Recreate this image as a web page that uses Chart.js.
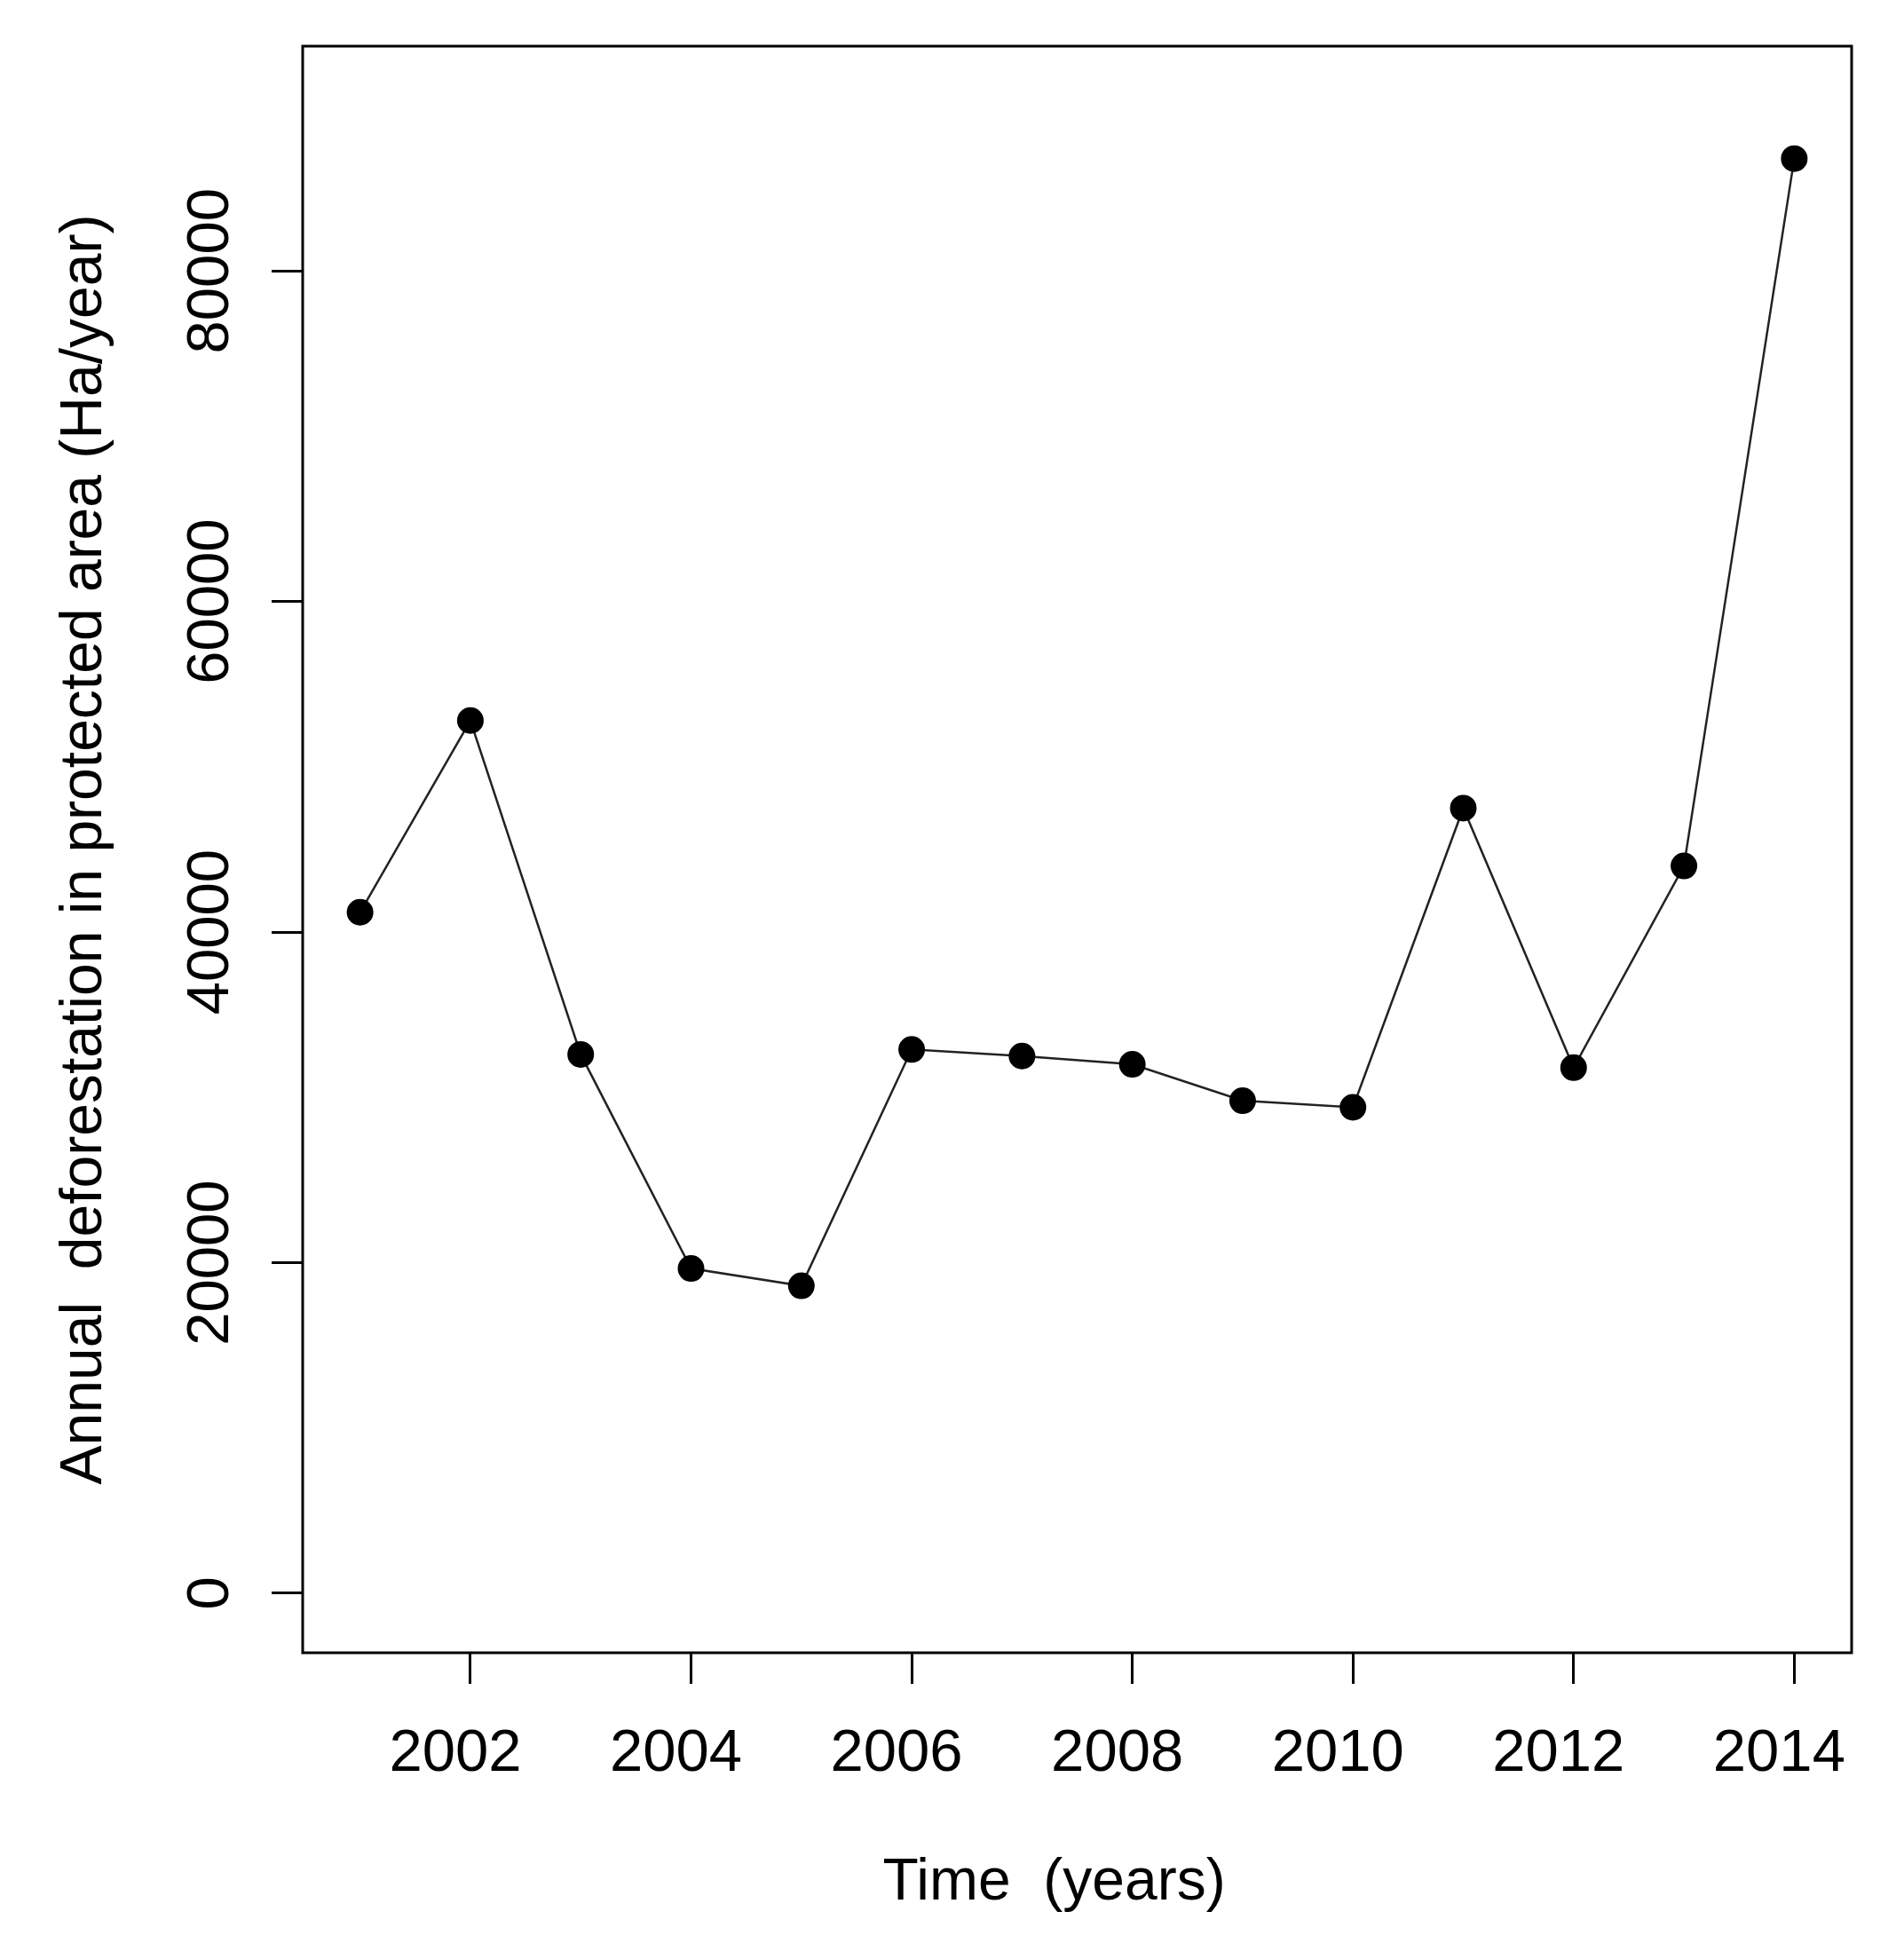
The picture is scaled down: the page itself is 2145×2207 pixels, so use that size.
<!DOCTYPE html>
<html>
<head>
<meta charset="utf-8">
<title>Annual deforestation in protected area</title>
<script src="https://cdn.jsdelivr.net/npm/chart.js@4.4.0/dist/chart.umd.min.js"></script>
<style>
	html, body { margin: 0; padding: 0; background: #fff; }
	#grafico { display: block; }
</style>
</head>
<body>
<canvas id="grafico" width="2145" height="2207"></canvas>
<script>
const years = [2001, 2002, 2003, 2004, 2005, 2006, 2007, 2008, 2009, 2010, 2011, 2012, 2013, 2014];
const deforestation = [41200, 52800, 32600, 19650, 18600, 32900, 32500, 32000, 29800, 29400, 47500, 31800, 44000, 86800];
const xTicks = [2002, 2004, 2006, 2008, 2010, 2012, 2014];
const yTicks = [0, 20000, 40000, 60000, 80000];
const xLabel = "Time  (years)";
const yLabel = "Annual  deforestation in protected area (Ha/year)";

const fuente = "'Liberation Sans', Arial, sans-serif";

// caja del grafico, etiquetas de los ejes (las del eje y giradas) y titulo del eje x
const marco = {
	id: 'marco',
	afterDraw(chart) {
		const ctx = chart.ctx;
		const area = chart.chartArea;
		const xScale = chart.scales.x;
		const yScale = chart.scales.y;
		ctx.save();
		ctx.strokeStyle = '#000';
		ctx.lineWidth = 3;
		ctx.strokeRect(area.left, area.top, area.right - area.left, area.bottom - area.top);

		ctx.fillStyle = '#000';
		ctx.font = "67px " + fuente;
		ctx.textAlign = 'center';
		ctx.textBaseline = 'middle';
		yTicks.forEach(valor => {
			ctx.save();
			ctx.translate(yScale.right - 102, yScale.getPixelForValue(valor));
			ctx.rotate(-Math.PI / 2);
			ctx.fillText(valor.toString(), 0, 0);
			ctx.restore();
		});
		xTicks.forEach(valor => {
			ctx.fillText(valor.toString(), xScale.getPixelForValue(valor) - 17, area.bottom + 115);
		});

		ctx.font = "66px " + fuente;
		ctx.fillText(xLabel, (area.left + area.right) / 2 - 26, chart.height - 85);
		ctx.restore();
	}
};

const puntos = years.map((anio, i) => ({ x: anio, y: deforestation[i] }));

const grafico = new Chart(document.getElementById('grafico'), {
	type: 'line',
	data: {
		datasets: [{
			data: puntos,
			borderColor: '#222',
			borderWidth: 2.5,
			pointRadius: 15,
			pointHoverRadius: 15,
			pointBackgroundColor: '#000',
			pointBorderWidth: 0,
			tension: 0,
			fill: false
		}]
	},
	options: {
		responsive: false,
		animation: false,
		devicePixelRatio: 1,
		layout: { padding: { left: 0, top: 52, right: 59, bottom: 0 } },
		plugins: {
			legend: { display: false },
			tooltip: { enabled: false }
		},
		scales: {
			x: {
				type: 'linear',
				min: 2000.48,
				max: 2014.52,
				afterBuildTicks: scale => { scale.ticks = xTicks.map(v => ({ value: v })); },
				afterFit: scale => { scale.height = 345; },
				grid: { drawOnChartArea: false, drawTicks: true, tickLength: 35, lineWidth: 3, color: '#000' },
				border: { display: false },
				ticks: { display: false }
			},
			y: {
				min: -3600,
				max: 93600,
				afterBuildTicks: scale => { scale.ticks = yTicks.map(v => ({ value: v })); },
				afterFit: scale => { scale.width = 341; },
				grid: { drawOnChartArea: false, drawTicks: true, tickLength: 35, lineWidth: 3, color: '#000' },
				border: { display: false },
				ticks: { display: false },
				title: {
					display: true,
					text: yLabel,
					color: '#000',
					font: { size: 66, family: fuente },
					padding: { top: 56, bottom: 0 }
				}
			}
		}
	},
	plugins: [marco]
});
</script>
</body>
</html>
